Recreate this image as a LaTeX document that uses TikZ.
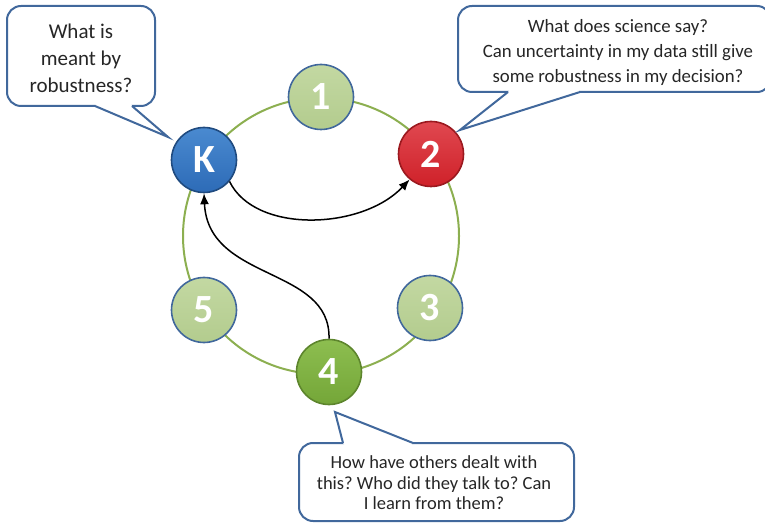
\documentclass[tikz,border=0pt]{standalone}
\usepackage{fontspec}
\setmainfont{Carlito}
\usetikzlibrary{arrows.meta}
\definecolor{cbord}{HTML}{41689C}
\definecolor{ringc}{HTML}{8CAF50}
\definecolor{lgreen}{HTML}{B3CC8E}
\definecolor{lgreenT}{HTML}{C3D8A2}
\definecolor{kblue}{HTML}{2D6BB7}
\definecolor{kblueT}{HTML}{4A8AD0}
\definecolor{kred}{HTML}{CF2129}
\definecolor{kredT}{HTML}{E04850}
\definecolor{kgreen}{HTML}{74A638}
\definecolor{kgreenT}{HTML}{8DBE50}
\definecolor{ntext}{HTML}{262626}
\tikzset{
  ball/.style={circle, minimum size=65pt, inner sep=0pt, line width=1.6pt,
    text=white, font=\bfseries\fontsize{40}{40}\selectfont},
  pale/.style={ball, draw=cbord, top color=lgreenT, bottom color=lgreen},
  ring/.style={draw=ringc, line width=2pt},
  conn/.style={draw=black, line width=1.5pt, -{Latex[length=11pt,width=9pt]}},
  callout/.style={draw=cbord, line width=2pt, fill=white},
  ctext/.style={align=center, text=ntext, inner sep=0pt},
}
\frenchspacing
\begin{document}
\begin{tikzpicture}[x=1pt,y=-1pt]
\useasboundingbox (0,0) rectangle (765,526);
% ring
\draw[ring] (321,236) circle (138);
% nodes
\node[pale] (n1) at (321,97) {1};
\node[ball, draw=kblue!70!black, top color=kblueT, bottom color=kblue] (K) at (204,160) {K};
\node[ball, draw=kred!75!black, top color=kredT, bottom color=kred] (n2) at (431,154) {2};
\node[pale] (n3) at (430,308) {3};
\node[pale] (n5) at (204,310) {5};
\node[ball, draw=kgreen!80!black, top color=kgreenT, bottom color=kgreen] (n4) at (329,372) {4};
% arrows
\draw[conn] (K.-40) .. controls (255,234) and (362,230) .. (n2.-130);
\draw[conn] (n4.north) .. controls (331,266) and (208,282) .. (K.south);
% callout 1
\draw[callout, rounded corners=14pt] (7,6) rectangle (155,106);
\coordinate (t1a) at (95,106);
\coordinate (t1b) at (132,106);
\coordinate (t1tip) at (168,137);
\fill[white] (t1a) -- (t1tip) -- (t1b) -- (131,103.5) -- (96,103.5) -- cycle;
\draw[draw=cbord, line width=2pt, line join=miter] (t1a) -- (t1tip) -- (t1b);
\node[ctext, font=\fontsize{21}{27}\selectfont] (c1) at (81,58) {What is\\meant by\\robustness?};
% callout 2
\draw[callout, rounded corners=14pt] (458,6) rectangle (771,92);
\coordinate (t2a) at (508,92);
\coordinate (t2b) at (580,92);
\coordinate (t2tip) at (460,130);
\fill[white] (t2a) -- (t2tip) -- (t2b) -- (578,89.5) -- (510,89.5) -- cycle;
\draw[draw=cbord, line width=2pt, line join=miter] (t2a) -- (t2tip) -- (t2b);
\node[ctext, font=\fontsize{18.8}{25}\selectfont] (c2) at (618,52) {What does science say?\\Can uncertainty in my data still give\\some robustness in my decision?};
% callout 3
\draw[callout, rounded corners=14pt] (299,443) rectangle (574,521);
\coordinate (t3a) at (343,443);
\coordinate (t3b) at (413,443);
\coordinate (t3tip) at (335,412);
\fill[white] (t3a) -- (t3tip) -- (t3b) -- (411,445.5) -- (345,445.5) -- cycle;
\draw[draw=cbord, line width=2pt, line join=miter] (t3a) -- (t3tip) -- (t3b);
\node[ctext, font=\fontsize{18.5}{20.5}\selectfont] (c3) at (434,483) {How have others dealt with\\this? Who did they talk to? Can\\I learn from them?};
\end{tikzpicture}
\end{document}
